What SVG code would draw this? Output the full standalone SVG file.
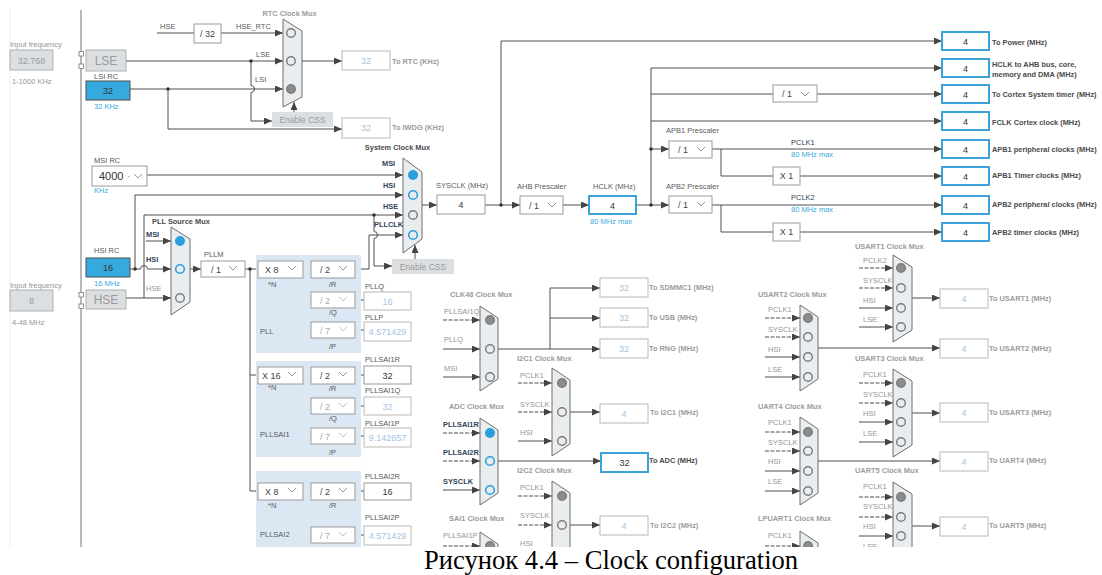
<svg xmlns="http://www.w3.org/2000/svg" width="1102" height="575" viewBox="0 0 1102 575">
<defs>
<style>
text{font-family:"Liberation Sans",Arial,sans-serif}
text.cap{font-family:"Liberation Serif","Times New Roman",serif;font-size:26.6px;fill:#000}
.c{fill:none;stroke:#4f4f4f;stroke-width:1}
.a{marker-end:url(#ah)}
.d{stroke-dasharray:4 1.5}
.mux{fill:#e9edf0;stroke:#6e6e6e;stroke-width:1}
.box{fill:#fff;stroke:#9a9a9a;stroke-width:1}
.off{fill:#fff;stroke:#b8b8b8;stroke-width:1}
.out{fill:#fff;stroke:#3ba2da;stroke-width:2}
.blu{fill:#36a9de;stroke:#4f4f4f;stroke-width:1}
.gry{fill:#dcdfe2;stroke:#b0b0b0;stroke-width:1}
.pin{fill:#fff;stroke:#777;stroke-width:0.8}
.pll{fill:#dbe8f4}
.cg{fill:none;stroke:#7c7c7c;stroke-width:1.4}
.cf{fill:#8c8c8c;stroke:#7c7c7c;stroke-width:1.4}
.cb{fill:none;stroke:#2b9fdc;stroke-width:1.6}
.cbf{fill:#2b9fdc;stroke:#2b9fdc;stroke-width:1.4}
.chev{fill:none;stroke:#8a8a8a;stroke-width:0.9}
.dot{fill:#333}
.t{font-size:7.5px;fill:#5a5a5a}
.tg{font-size:7.5px;fill:#959595}
.tb{font-size:7.4px;font-weight:bold;fill:#4a4a4a}
.tbg{font-size:7.4px;font-weight:bold;fill:#9c9c9c}
.tn{font-size:7.4px;font-weight:bold;fill:#2f4358}
.tnn{font-size:7.5px;fill:#2f4358}
.tbl{font-size:7.5px;fill:#36a9de}
.v{font-size:9px;fill:#333;text-anchor:middle}
.vo{font-size:9px;fill:#a8c3dd;text-anchor:middle}
.s{font-size:9px;fill:#444}
.so{font-size:9px;fill:#aaa}
.mid{text-anchor:middle}
</style>
<marker id="ah" viewBox="0 0 8 7" refX="8" refY="3.5" markerWidth="8" markerHeight="7" markerUnits="userSpaceOnUse" orient="auto"><path d="M0,0 L8,3.5 L0,7Z" fill="#444"/></marker>
<clipPath id="pane"><rect x="0" y="0" width="1102" height="547"/></clipPath>
</defs>
<rect width="1102" height="575" fill="#fff"/>
<g clip-path="url(#pane)">
<!-- panel edges -->
<g id="frame">
<line x1="10" y1="8" x2="10" y2="547" stroke="#eeeeee"/>
<line x1="81" y1="10" x2="81" y2="547" stroke="#8a8a8a" stroke-width="1.2"/>
</g>

<!-- clock routing -->
<g id="connectors">
<path class="c" d="M157,33 H194"/>
<path class="c a" d="M221,33 H283"/>
<path class="c a" d="M126,61 H283"/>
<path class="c a" d="M130,89 H283"/>
<path class="c a" d="M251,61 V85.5 A3.5,3.5 0 0 1 251,92.5 V121 H272"/>
<path class="c a" d="M168,89 V129 H342"/>
<path class="c a" d="M302,61 H342"/>
<path class="c a" d="M294,112 V102"/>
<path class="c a" d="M147,175 H403"/>
<path class="c a" d="M135,269 V195 H403"/>
<path class="c a" d="M130,269 H140.5 A3.5,3.5 0 0 1 147.5,269 H171"/>
<path class="c a" d="M126,298 H171"/>
<path class="c a" d="M144,298 V215 H403"/>
<path class="c a" d="M146,241 H171"/>
<path class="c a" d="M374,215 V231.5 A3.5,3.5 0 0 1 374,238.5 V266 H392"/>
<path class="c a" d="M355,269 H369 V235 H403"/>
<path class="c a" d="M415,259 V245"/>
<path class="c a" d="M422,205 H437"/>
<path class="c a" d="M485,205 H520"/>
<path class="c a" d="M501,205 V41 H942"/>
<path class="c a" d="M563,205 H589"/>
<path class="c a" d="M636,205 H669"/>
<path class="c a" d="M651,205 V68 H942"/>
<path class="c" d="M651,94 H773"/>
<path class="c a" d="M817,94 H942"/>
<path class="c a" d="M651,121 H942"/>
<path class="c a" d="M651,149 H669"/>
<path class="c a" d="M712,149 H942"/>
<path class="c" d="M721,149 V176 H773"/>
<path class="c a" d="M800,176 H942"/>
<path class="c a" d="M712,205 H942"/>
<path class="c" d="M721,205 V232 H773"/>
<path class="c a" d="M800,232 H942"/>
<!-- PLL fan-out -->
<path class="c a" d="M190,269 H201"/>
<path class="c" d="M245,269 H258"/>
<path class="c" d="M250,269 V491 H258"/>
<path class="c" d="M250,375 H258"/>
<path class="c" d="M303,269 H311 M306,269 V330 H311 M306,300 H311 M355,300 H364 M355,330 H364"/>
<path class="c" d="M303,375 H311 M306,375 V436 H311 M306,406 H311 M355,375 H364 M355,406 H364 M355,436 H364"/>
<path class="c" d="M303,491 H311 M306,491 V535 H311 M355,491 H364 M355,535 H364"/>
<!-- CLK48 -->
<path class="c a d" d="M443,320 H480"/>
<path class="c a" d="M443,349 H480"/>
<path class="c a" d="M443,377 H480"/>
<path class="c a" d="M498,349 H600"/>
<path class="c a" d="M550,349 V288 H600"/>
<path class="c a" d="M550,318 H600"/>
<!-- I2C1 -->
<path class="c a d" d="M518,383 H552"/>
<path class="c a d" d="M518,412 H552"/>
<path class="c a" d="M518,441 H552"/>
<path class="c a" d="M570,412 H600"/>
<!-- ADC -->
<path class="c a d" d="M443,433 H480"/>
<path class="c a d" d="M443,461 H480"/>
<path class="c a" d="M443,490 H480"/>
<path class="c a" d="M498,461 H601"/>
<!-- I2C2 -->
<path class="c a d" d="M518,496 H552"/>
<path class="c a d" d="M518,525 H552"/>
<path class="c a" d="M518,554 H552"/>
<path class="c a" d="M570,525 H600"/>
<!-- SAI1 -->
<path class="c a d" d="M443,546 H480"/>
<!-- USART2 -->
<path class="c a d" d="M765,318 H800"/>
<path class="c a d" d="M765,337 H800"/>
<path class="c a" d="M765,357 H800"/>
<path class="c a" d="M765,377 H800"/>
<path class="c a" d="M818,348 H940"/>
<!-- USART1 -->
<path class="c a d" d="M859,268 H893"/>
<path class="c a d" d="M859,288 H893"/>
<path class="c a" d="M859,308 H893"/>
<path class="c a" d="M859,327 H893"/>
<path class="c a" d="M912,298 H940"/>
<!-- USART3 -->
<path class="c a d" d="M859,383 H893"/>
<path class="c a d" d="M859,403 H893"/>
<path class="c a" d="M859,422 H893"/>
<path class="c a" d="M859,442 H893"/>
<path class="c a" d="M912,413 H940"/>
<!-- UART4 -->
<path class="c a d" d="M765,432 H800"/>
<path class="c a d" d="M765,451 H800"/>
<path class="c a" d="M765,471 H800"/>
<path class="c a" d="M765,491 H800"/>
<path class="c a" d="M818,461 H940"/>
<!-- UART5 -->
<path class="c a d" d="M859,497 H893"/>
<path class="c a d" d="M859,517 H893"/>
<path class="c a" d="M859,536 H893"/>
<path class="c a" d="M859,556 H893"/>
<path class="c a" d="M912,526 H940"/>
<!-- LPUART1 -->
<path class="c a d" d="M765,546 H800"/>
<!-- junctions -->
<circle class="dot" cx="251" cy="61" r="1.8"/>
<circle class="dot" cx="168" cy="89" r="1.8"/>
<circle class="dot" cx="135" cy="269" r="1.8"/>
<circle class="dot" cx="374" cy="215" r="1.8"/>
<circle class="dot" cx="501" cy="205" r="1.8"/>
<circle class="dot" cx="651" cy="205" r="1.8"/>
<circle class="dot" cx="651" cy="149" r="1.8"/>
<circle class="dot" cx="250" cy="269" r="1.8"/>
</g>

<!-- oscillators -->
<g id="lse-input">
<text class="tg" x="10" y="47">Input frequency</text>
<rect class="gry" x="10" y="50" width="43" height="20"/>
<text x="31.5" y="63.5" font-size="9" fill="#9a9a9a" class="mid">32.768</text>
<text class="tg" x="12" y="84">1-1000 KHz</text>
</g>
<g id="lse">
<rect class="pin" x="79" y="51.5" width="4.5" height="4.5"/>
<rect class="pin" x="79" y="64" width="4.5" height="4.5"/>
<rect class="gry" x="86" y="50" width="40" height="21"/>
<text x="106" y="65" font-size="12" fill="#9a9a9a" class="mid">LSE</text>
</g>
<g id="lsi-rc">
<text class="t" x="94" y="79">LSI RC</text>
<rect class="blu" x="86" y="81" width="44" height="19"/>
<text class="v" x="108" y="94">32</text>
<text class="tbl" x="94" y="109">32 KHz</text>
</g>
<g id="hse-rtc-div">
<text class="t" x="160" y="29">HSE</text>
<rect class="box" x="194" y="24" width="27" height="19"/>
<text class="s mid" x="207.5" y="37">/ 32</text>
<text class="t" x="236" y="29">HSE_RTC</text>
</g>
<g id="rtc-mux">
<text class="tbg mid" x="289.5" y="16">RTC Clock Mux</text>
<path class="mux" d="M283,19 L302,31 L302,97 L283,107Z"/>
<circle class="cg" cx="291" cy="33" r="4.3"/>
<circle class="cg" cx="291" cy="61" r="4.3"/>
<circle class="cf" cx="291" cy="89" r="4.3"/>
<text class="t" x="256" y="57">LSE</text>
<text class="t" x="255" y="82">LSI</text>
</g>
<g id="rtc-css">
<rect x="272" y="112" width="61" height="15" fill="#dcdfe2"/>
<text x="302.5" y="123" font-size="8.5" fill="#9a9a9a" class="mid">Enable CSS</text>
</g>
<g id="rtc-out">
<rect class="off" x="342" y="51" width="48" height="19"/>
<text class="vo" x="366" y="64">32</text>
<text class="tbg" x="392" y="64">To RTC (KHz)</text>
</g>
<g id="iwdg-out">
<rect class="off" x="342" y="118" width="48" height="20"/>
<text class="vo" x="366" y="131">32</text>
<text class="tbg" x="392" y="130">To IWDG (KHz)</text>
</g>
<g id="msi-rc">
<text class="t" x="94" y="163">MSI RC</text>
<rect class="box" x="92" y="166" width="55" height="20"/>
<text x="99" y="180" font-size="11" fill="#333">4000</text>
<text x="127" y="179" font-size="9" fill="#777">·</text>
<polyline class="chev" points="134,174 138,178 142,174"/>
<text class="tbl" x="94" y="193">KHz</text>
</g>
<g id="hsi-rc">
<text class="t" x="94" y="253">HSI RC</text>
<rect class="blu" x="86" y="258" width="44" height="19"/>
<text class="v" x="108" y="271">16</text>
<text class="tbl" x="94" y="286">16 MHz</text>
</g>
<g id="hse-input">
<text class="tg" x="10" y="288">Input frequency</text>
<rect class="gry" x="10" y="290" width="43" height="21"/>
<text x="31.5" y="304" font-size="9" fill="#9a9a9a" class="mid">8</text>
<text class="tg" x="12" y="325">4-48 MHz</text>
</g>
<g id="hse">
<rect class="pin" x="79" y="292.5" width="4.5" height="4.5"/>
<rect class="pin" x="79" y="304" width="4.5" height="4.5"/>
<rect class="gry" x="86" y="290" width="40" height="19"/>
<text x="106" y="304" font-size="12" fill="#9a9a9a" class="mid">HSE</text>
</g>

<!-- system clock -->
<g id="sysclk-mux">
<text class="tb mid" x="397.5" y="150">System Clock Mux</text>
<path class="mux" d="M403,158 L422,172 L422,239 L403,253Z"/>
<circle class="cbf" cx="413" cy="175" r="4.3"/>
<circle class="cb" cx="413" cy="195" r="4.3"/>
<circle class="cg" cx="413" cy="215" r="4.3"/>
<circle class="cb" cx="413" cy="235" r="4.3"/>
<text class="tn" x="382" y="166">MSI</text>
<text class="tn" x="383" y="188">HSI</text>
<text class="tn" x="383" y="209">HSE</text>
<text class="tn" x="374" y="227">PLLCLK</text>
</g>
<g id="sys-css">
<rect x="392" y="259" width="62" height="15" fill="#dcdfe2"/>
<text x="423" y="270" font-size="8.5" fill="#9a9a9a" class="mid">Enable CSS</text>
</g>
<g id="sysclk">
<text class="t" x="436" y="188">SYSCLK (MHz)</text>
<rect class="box" x="437" y="195" width="48" height="19"/>
<text class="v" x="461" y="208">4</text>
</g>
<g id="ahb-prescaler">
<text class="t" x="517" y="189">AHB Prescaler</text>
<rect class="box" x="520" y="196" width="43" height="18"/>
<text class="s" x="529" y="208.5">/ 1</text>
<polyline class="chev" points="548,203 552,207 556,203"/>
</g>
<g id="hclk">
<text class="t" x="593" y="189">HCLK (MHz)</text>
<rect class="out" x="589" y="196" width="47" height="18"/>
<text class="v" x="612.5" y="208.5">4</text>
<text class="tbl" x="590" y="224">80 MHz max</text>
</g>
<g id="systick-div">
<rect class="box" x="773" y="85" width="44" height="17"/>
<text class="s" x="782" y="97">/ 1</text>
<polyline class="chev" points="801,92 805,96 809,92"/>
</g>
<g id="apb1-prescaler">
<text class="t" x="666" y="133">APB1 Prescaler</text>
<rect class="box" x="669" y="141" width="43" height="17"/>
<text class="s" x="678" y="153">/ 1</text>
<polyline class="chev" points="697,147 701,151 705,147"/>
<text class="tnn" x="791" y="145">PCLK1</text>
<text class="tbl" x="791" y="157">80 MHz max</text>
</g>
<g id="apb1-timer-mul">
<rect class="box" x="773" y="167" width="27" height="18"/>
<text class="s mid" x="786.5" y="179">X 1</text>
</g>
<g id="apb2-prescaler">
<text class="t" x="666" y="189">APB2 Prescaler</text>
<rect class="box" x="669" y="196" width="43" height="17"/>
<text class="s" x="678" y="208">/ 1</text>
<polyline class="chev" points="697,202 701,206 705,202"/>
<text class="tnn" x="791" y="200">PCLK2</text>
<text class="tbl" x="791" y="212">80 MHz max</text>
</g>
<g id="apb2-timer-mul">
<rect class="box" x="773" y="223" width="27" height="18"/>
<text class="s mid" x="786.5" y="235">X 1</text>
</g>

<!-- bus outputs -->
<g id="out-power"><rect class="out" x="942" y="32" width="47" height="18"/><text class="v" x="965.5" y="44.5">4</text><text class="tb" x="992" y="45">To Power (MHz)</text></g>
<g id="out-hclk"><rect class="out" x="942" y="59" width="47" height="18"/><text class="v" x="965.5" y="71.5">4</text><text class="tb" x="992" y="67">HCLK to AHB bus, core,</text><text class="tb" x="992" y="77">memory and DMA (MHz)</text></g>
<g id="out-systick"><rect class="out" x="942" y="85" width="47" height="18"/><text class="v" x="965.5" y="97.5">4</text><text class="tb" x="992" y="97">To Cortex System timer (MHz)</text></g>
<g id="out-fclk"><rect class="out" x="942" y="112" width="47" height="18"/><text class="v" x="965.5" y="124.5">4</text><text class="tb" x="992" y="124.5">FCLK Cortex clock (MHz)</text></g>
<g id="out-apb1"><rect class="out" x="942" y="140" width="47" height="18"/><text class="v" x="965.5" y="152.5">4</text><text class="tb" x="992" y="152">APB1 peripheral clocks (MHz)</text></g>
<g id="out-apb1-tim"><rect class="out" x="942" y="167" width="47" height="18"/><text class="v" x="965.5" y="179.5">4</text><text class="tb" x="992" y="178">APB1 Timer clocks (MHz)</text></g>
<g id="out-apb2"><rect class="out" x="942" y="196" width="47" height="18"/><text class="v" x="965.5" y="208.5">4</text><text class="tb" x="992" y="207">APB2 peripheral clocks (MHz)</text></g>
<g id="out-apb2-tim"><rect class="out" x="942" y="223" width="47" height="18"/><text class="v" x="965.5" y="235.5">4</text><text class="tb" x="992" y="235">APB2 timer clocks (MHz)</text></g>

<!-- PLL source -->
<g id="pll-source-mux">
<text class="tb" x="152" y="223.5">PLL Source Mux</text>
<path class="mux" d="M171,227 L190,239 L190,302 L171,315Z"/>
<circle class="cbf" cx="180" cy="241" r="4.3"/>
<circle class="cb" cx="180" cy="269" r="4.3"/>
<circle class="cg" cx="180" cy="298" r="4.3"/>
<text class="tn" x="146" y="237">MSI</text>
<text class="tn" x="146" y="262">HSI</text>
<text class="tg" x="146" y="291">HSE</text>
</g>
<g id="pllm">
<text class="t" x="204" y="257">PLLM</text>
<rect class="box" x="201" y="261" width="44" height="16"/>
<text class="s" x="211" y="272.5">/ 1</text>
<polyline class="chev" points="229,266 233,270 237,266"/>
</g>

<!-- main PLL -->
<g id="pll">
<rect class="pll" x="256" y="255" width="105" height="98"/>
<rect class="box" x="258" y="261" width="45" height="17"/>
<text class="s" x="265" y="273">X 8</text>
<polyline class="chev" points="288,266 292,270 296,266"/>
<text class="t" x="268" y="287">*N</text>
<rect class="box" x="311" y="261" width="44" height="17"/>
<text class="s" x="320" y="273">/ 2</text>
<polyline class="chev" points="339,266 343,270 347,266"/>
<text class="t" x="329" y="287">/R</text>
<rect class="box" x="311" y="292" width="44" height="16"/>
<text class="so" x="320" y="303.5">/ 2</text>
<polyline class="chev" points="339,297 343,301 347,297" opacity="0.6"/>
<text class="t" x="329" y="315">/Q</text>
<rect class="box" x="311" y="322" width="44" height="16"/>
<text class="so" x="320" y="333.5">/ 7</text>
<polyline class="chev" points="339,327 343,331 347,327" opacity="0.6"/>
<text class="t" x="329" y="349">/P</text>
<text class="t" x="260" y="334">PLL</text>
<text class="t" x="365" y="289">PLLQ</text>
<rect class="off" x="364" y="292" width="47" height="18"/>
<text class="vo" x="387.5" y="304.5">16</text>
<text class="t" x="365" y="320">PLLP</text>
<rect class="off" x="364" y="322" width="47" height="19"/>
<text class="vo" x="387.5" y="335">4.571429</text>
</g>

<!-- PLLSAI1 -->
<g id="pllsai1">
<rect class="pll" x="256" y="361" width="105" height="96"/>
<rect class="box" x="258" y="367" width="45" height="17"/>
<text class="s" x="262" y="379">X 16</text>
<polyline class="chev" points="288,372 292,376 296,372"/>
<text class="t" x="268" y="390">*N</text>
<rect class="box" x="311" y="367" width="44" height="17"/>
<text class="s" x="320" y="379">/ 2</text>
<polyline class="chev" points="339,372 343,376 347,372"/>
<text class="t" x="329" y="391">/R</text>
<rect class="box" x="311" y="398" width="44" height="16"/>
<text class="so" x="320" y="409.5">/ 2</text>
<polyline class="chev" points="339,403 343,407 347,403" opacity="0.6"/>
<text class="t" x="329" y="421">/Q</text>
<rect class="box" x="311" y="428" width="44" height="16"/>
<text class="so" x="320" y="439.5">/ 7</text>
<polyline class="chev" points="339,433 343,437 347,433" opacity="0.6"/>
<text class="t" x="329" y="455">/P</text>
<text class="t" x="260" y="437">PLLSAI1</text>
<text class="t" x="365" y="362">PLLSAI1R</text>
<rect class="box" x="364" y="366" width="47" height="18"/>
<text class="v" x="387.5" y="378.5">32</text>
<text class="t" x="365" y="393">PLLSAI1Q</text>
<rect class="off" x="364" y="397" width="47" height="18"/>
<text class="vo" x="387.5" y="409.5">32</text>
<text class="t" x="365" y="426">PLLSAI1P</text>
<rect class="off" x="364" y="428" width="47" height="19"/>
<text class="vo" x="387.5" y="441">9.142857</text>
</g>

<!-- PLLSAI2 -->
<g id="pllsai2">
<rect class="pll" x="256" y="471" width="105" height="80"/>
<rect class="box" x="258" y="483" width="45" height="17"/>
<text class="s" x="265" y="495">X 8</text>
<polyline class="chev" points="288,488 292,492 296,488"/>
<text class="t" x="268" y="508">*N</text>
<rect class="box" x="311" y="483" width="44" height="17"/>
<text class="s" x="320" y="495">/ 2</text>
<polyline class="chev" points="339,488 343,492 347,488"/>
<text class="t" x="329" y="508">/R</text>
<rect class="box" x="311" y="527" width="44" height="16"/>
<text class="so" x="320" y="538.5">/ 7</text>
<polyline class="chev" points="339,532 343,536 347,532" opacity="0.6"/>
<text class="t" x="260" y="537">PLLSAI2</text>
<text class="t" x="365" y="479">PLLSAI2R</text>
<rect class="box" x="364" y="483" width="47" height="17"/>
<text class="v" x="387.5" y="495">16</text>
<text class="t" x="365" y="520">PLLSAI2P</text>
<rect class="off" x="364" y="526" width="47" height="19"/>
<text class="vo" x="387.5" y="539">4.571429</text>
</g>

<!-- 48 MHz domain -->
<g id="clk48-mux">
<text class="tbg" x="450" y="297">CLK48 Clock Mux</text>
<path class="mux" d="M480,306 L498,318 L498,379 L480,391Z"/>
<circle class="cf" cx="490" cy="320" r="4.3"/>
<circle class="cg" cx="490" cy="349" r="4.3"/>
<circle class="cg" cx="490" cy="377" r="4.3"/>
<text class="tg" x="444" y="314">PLLSAI1Q</text>
<text class="tg" x="444" y="342">PLLQ</text>
<text class="tg" x="444" y="371">MSI</text>
</g>
<g id="out-sdmmc1"><rect class="off" x="600" y="278" width="48" height="19"/><text class="vo" x="624" y="291">32</text><text class="tbg" x="649" y="290">To SDMMC1 (MHz)</text></g>
<g id="out-usb"><rect class="off" x="600" y="308" width="48" height="19"/><text class="vo" x="624" y="321">32</text><text class="tbg" x="649" y="320">To USB (MHz)</text></g>
<g id="out-rng"><rect class="off" x="600" y="339" width="48" height="19"/><text class="vo" x="624" y="352">32</text><text class="tbg" x="649" y="351">To RNG (MHz)</text></g>

<g id="i2c1-mux">
<text class="tbg" x="517" y="361">I2C1 Clock Mux</text>
<path class="mux" d="M552,368 L570,380 L570,444 L552,456Z"/>
<circle class="cf" cx="562" cy="383" r="4.3"/>
<circle class="cg" cx="562" cy="412" r="4.3"/>
<circle class="cg" cx="562" cy="441" r="4.3"/>
<text class="tg" x="520" y="378">PCLK1</text>
<text class="tg" x="520" y="407">SYSCLK</text>
<text class="tg" x="520" y="435">HSI</text>
</g>
<g id="out-i2c1"><rect class="off" x="600" y="404" width="48" height="19"/><text class="vo" x="624" y="417">4</text><text class="tbg" x="650" y="415">To I2C1 (MHz)</text></g>

<g id="adc-mux">
<text class="tbg" x="449" y="409">ADC Clock Mux</text>
<path class="mux" d="M480,418 L498,430 L498,493 L480,505Z"/>
<circle class="cbf" cx="490" cy="433" r="4.3"/>
<circle class="cb" cx="490" cy="461" r="4.3"/>
<circle class="cb" cx="490" cy="490" r="4.3"/>
<text class="tn" x="443" y="427">PLLSAI1R</text>
<text class="tn" x="443" y="455">PLLSAI2R</text>
<text class="tn" x="443" y="484">SYSCLK</text>
</g>
<g id="out-adc"><rect class="out" x="601" y="453" width="47" height="19"/><text class="v" x="624.5" y="466">32</text><text class="tb" x="649" y="463">To ADC (MHz)</text></g>

<g id="i2c2-mux">
<text class="tbg" x="517" y="473">I2C2 Clock Mux</text>
<path class="mux" d="M552,481 L570,493 L570,557 L552,569Z"/>
<circle class="cf" cx="562" cy="496" r="4.3"/>
<circle class="cg" cx="562" cy="525" r="4.3"/>
<circle class="cg" cx="562" cy="554" r="4.3"/>
<text class="tg" x="520" y="490">PCLK1</text>
<text class="tg" x="520" y="518">SYSCLK</text>
<text class="tg" x="520" y="546">HSI</text>
</g>
<g id="out-i2c2"><rect class="off" x="600" y="516" width="48" height="19"/><text class="vo" x="624" y="529">4</text><text class="tbg" x="650" y="528">To I2C2 (MHz)</text></g>

<g id="sai1-mux">
<text class="tbg" x="449" y="521">SAI1 Clock Mux</text>
<path class="mux" d="M480,532 L498,544 L498,600 L480,612Z"/>
<circle class="cf" cx="490" cy="546" r="4.3"/>
<text class="tg" x="443" y="538">PLLSAI1P</text>
</g>

<!-- U(S)ART muxes -->
<g id="usart1-mux">
<text class="tbg" x="855" y="249">USART1 Clock Mux</text>
<path class="mux" d="M893,255 L912,267 L912,330 L893,342Z"/>
<circle class="cf" cx="901" cy="268" r="4.3"/>
<circle class="cg" cx="901" cy="288" r="4.3"/>
<circle class="cg" cx="901" cy="308" r="4.3"/>
<circle class="cg" cx="901" cy="327" r="4.3"/>
<text class="tg" x="863" y="263">PCLK2</text>
<text class="tg" x="863" y="283">SYSCLK</text>
<text class="tg" x="863" y="303">HSI</text>
<text class="tg" x="863" y="322">LSE</text>
</g>
<g id="out-usart1"><rect class="off" x="940" y="289" width="48" height="19"/><text class="vo" x="964" y="302">4</text><text class="tbg" x="989" y="301">To USART1 (MHz)</text></g>

<g id="usart2-mux">
<text class="tbg" x="758" y="297">USART2 Clock Mux</text>
<path class="mux" d="M800,305 L818,317 L818,379 L800,391Z"/>
<circle class="cf" cx="808" cy="318" r="4.3"/>
<circle class="cg" cx="808" cy="337" r="4.3"/>
<circle class="cg" cx="808" cy="357" r="4.3"/>
<circle class="cg" cx="808" cy="377" r="4.3"/>
<text class="tg" x="768" y="312">PCLK1</text>
<text class="tg" x="768" y="332">SYSCLK</text>
<text class="tg" x="768" y="352">HSI</text>
<text class="tg" x="768" y="372">LSE</text>
</g>
<g id="out-usart2"><rect class="off" x="940" y="339" width="48" height="19"/><text class="vo" x="964" y="352">4</text><text class="tbg" x="989" y="351">To USART2 (MHz)</text></g>

<g id="usart3-mux">
<text class="tbg" x="855" y="361">USART3 Clock Mux</text>
<path class="mux" d="M893,369 L912,381 L912,445 L893,457Z"/>
<circle class="cf" cx="901" cy="383" r="4.3"/>
<circle class="cg" cx="901" cy="403" r="4.3"/>
<circle class="cg" cx="901" cy="422" r="4.3"/>
<circle class="cg" cx="901" cy="442" r="4.3"/>
<text class="tg" x="863" y="377">PCLK1</text>
<text class="tg" x="863" y="397">SYSCLK</text>
<text class="tg" x="863" y="416">HSI</text>
<text class="tg" x="863" y="436">LSE</text>
</g>
<g id="out-usart3"><rect class="off" x="940" y="403" width="48" height="19"/><text class="vo" x="964" y="416">4</text><text class="tbg" x="989" y="415">To USART3 (MHz)</text></g>

<g id="uart4-mux">
<text class="tbg" x="758" y="409">UART4 Clock Mux</text>
<path class="mux" d="M800,417 L818,429 L818,493 L800,505Z"/>
<circle class="cf" cx="808" cy="432" r="4.3"/>
<circle class="cg" cx="808" cy="451" r="4.3"/>
<circle class="cg" cx="808" cy="471" r="4.3"/>
<circle class="cg" cx="808" cy="491" r="4.3"/>
<text class="tg" x="768" y="425">PCLK1</text>
<text class="tg" x="768" y="445">SYSCLK</text>
<text class="tg" x="768" y="464">HSI</text>
<text class="tg" x="768" y="484">LSE</text>
</g>
<g id="out-uart4"><rect class="off" x="940" y="452" width="48" height="19"/><text class="vo" x="964" y="465">4</text><text class="tbg" x="989" y="463">To UART4 (MHz)</text></g>

<g id="uart5-mux">
<text class="tbg" x="855" y="473">UART5 Clock Mux</text>
<path class="mux" d="M893,482 L912,494 L912,558 L893,570Z"/>
<circle class="cf" cx="901" cy="497" r="4.3"/>
<circle class="cg" cx="901" cy="517" r="4.3"/>
<circle class="cg" cx="901" cy="536" r="4.3"/>
<circle class="cg" cx="901" cy="556" r="4.3"/>
<text class="tg" x="863" y="489">PCLK1</text>
<text class="tg" x="863" y="509">SYSCLK</text>
<text class="tg" x="863" y="529">HSI</text>
<text class="tg" x="863" y="549">LSE</text>
</g>
<g id="out-uart5"><rect class="off" x="940" y="517" width="48" height="19"/><text class="vo" x="964" y="530">4</text><text class="tbg" x="989" y="528">To UART5 (MHz)</text></g>

<g id="lpuart1-mux">
<text class="tbg" x="758" y="521">LPUART1 Clock Mux</text>
<path class="mux" d="M800,531 L818,543 L818,600 L800,612Z"/>
<circle class="cf" cx="808" cy="546" r="4.3"/>
<text class="tg" x="768" y="538">PCLK1</text>
</g>
</g>

<text class="cap" x="424" y="569">Рисунок 4.4 – Clock configuration</text>
</svg>
